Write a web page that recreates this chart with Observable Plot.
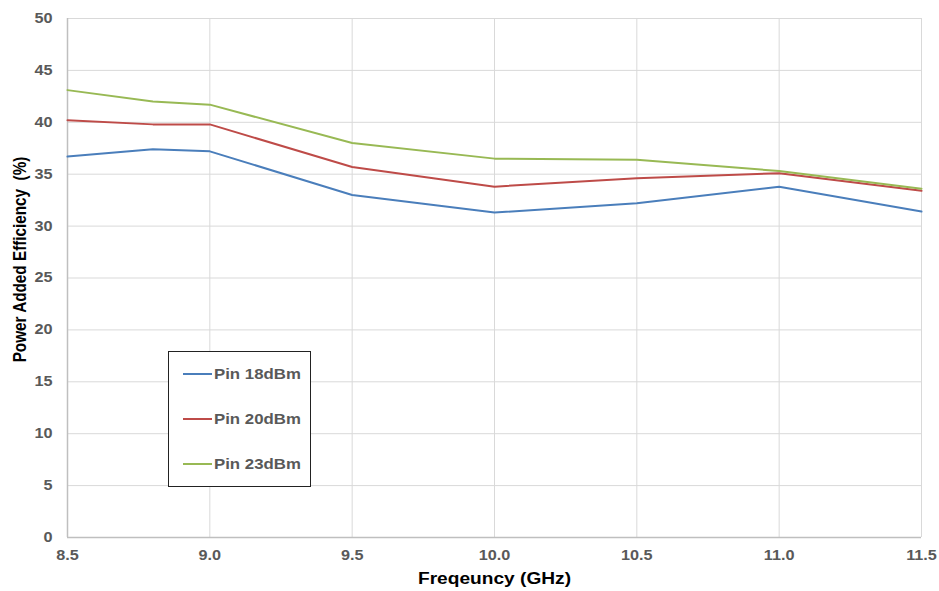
<!DOCTYPE html>
<html>
<head>
<meta charset="utf-8">
<script src="https://cdn.jsdelivr.net/npm/d3@7"></script>
<script src="https://cdn.jsdelivr.net/npm/@observablehq/plot@0.6"></script>
<style>
  html, body { margin: 0; padding: 0; background: #fff; }
  #wrap { position: relative; width: 939px; height: 591px; font-family: "Liberation Sans", Arial, sans-serif; }
  #legend { position: absolute; left: 168px; top: 351px; width: 143px; height: 136px; border: 1px solid #222; background: #fff; box-sizing: border-box; }
  .item { position: absolute; left: 14px; display: flex; align-items: center; font-weight: bold; font-size: 15px; color: #595959; }
  .swatch { width: 29px; height: 2px; margin-right: 2px; }
  .item span { display: inline-block; transform: scaleX(1.12); transform-origin: left center; }
</style>
</head>
<body>
<div id="wrap"></div>
<script>
// Frequency sweep points (GHz)
const freq = [8.5, 8.8, 9.0, 9.5, 10.0, 10.5, 11.0, 11.5];
// PAE (%) for each input power level
const pin18 = [36.7, 37.4, 37.2, 33.0, 31.3, 32.2, 33.8, 31.4];
const pin20 = [40.2, 39.8, 39.8, 35.7, 33.8, 34.6, 35.1, 33.4];
const pin23 = [43.1, 42.0, 41.7, 38.0, 36.5, 36.4, 35.3, 33.6];
const seriesNames = ["Pin 18dBm", "Pin 20dBm", "Pin 23dBm"];
const seriesColors = ["#4a7ebb", "#be4b48", "#98b954"];
const xTicks = [8.5, 9.0, 9.5, 10.0, 10.5, 11.0, 11.5];
const yTicks = [0, 5, 10, 15, 20, 25, 30, 35, 40, 45, 50];

const rows = [];
[pin18, pin20, pin23].forEach((vals, s) => {
  vals.forEach((v, i) => rows.push({freq: freq[i], pae: v, series: seriesNames[s]}));
});

const chart = Plot.plot({
  width: 939,
  height: 591,
  marginLeft: 67,
  marginRight: 18,
  marginTop: 18,
  marginBottom: 54,
  style: {fontFamily: "'Liberation Sans', Arial, sans-serif", background: "#fff"},
  x: {domain: [8.5, 11.5], ticks: xTicks},
  y: {domain: [0, 50], ticks: yTicks},
  color: {domain: seriesNames, range: seriesColors},
  marks: [
    Plot.ruleY(yTicks, {stroke: "#d9d9d9", strokeWidth: 1}),
    Plot.ruleX(xTicks, {stroke: "#d9d9d9", strokeWidth: 1}),
    Plot.ruleX([8.5], {stroke: "#bfbfbf", strokeWidth: 1.5}),
    Plot.ruleY([0], {stroke: "#bfbfbf", strokeWidth: 1.5}),
    Plot.line(rows, {x: "freq", y: "pae", z: "series", stroke: "series", strokeWidth: 2}),
    Plot.axisY(yTicks, {tickSize: 0, tickPadding: 15, fontSize: 14, fontWeight: "bold", fill: "#595959", label: null, className: "wide"}),
    Plot.axisX(xTicks, {tickSize: 0, tickPadding: 13, fontSize: 14, fontWeight: "bold", fill: "#595959", tickFormat: d => d.toFixed(1), label: null, className: "wide"}),
    Plot.text(["Freqeuncy (GHz)"], {frameAnchor: "bottom", lineAnchor: "middle", dy: 41, fontSize: 16.5, fontWeight: "bold", fill: "#000", className: "wide"}),
    Plot.text(["Power Added Efficiency  (%)"], {frameAnchor: "left", textAnchor: "middle", lineAnchor: "middle", dx: -47, dy: -18.5, rotate: -90, fontSize: 15.3, fontWeight: "bold", fill: "#000", className: "wide-rot"})
  ]
});

// Text in this chart is set slightly wide: stretch glyphs horizontally about their anchors
chart.querySelectorAll(".wide text, text.wide").forEach(t => {
  const tr = t.getAttribute("transform") || "";
  t.setAttribute("transform", tr + " scale(1.16,1)");
});
chart.querySelectorAll(".wide-rot text, text.wide-rot").forEach(t => {
  const tr = t.getAttribute("transform") || "";
  t.setAttribute("transform", tr + " scale(1,1.16)");
});

const wrap = document.getElementById("wrap");
wrap.appendChild(chart);

// Legend box drawn over the plot area
const legend = document.createElement("div");
legend.id = "legend";
seriesNames.forEach((name, i) => {
  const item = document.createElement("div");
  item.className = "item";
  item.style.top = (13 + i * 45) + "px";
  const sw = document.createElement("div");
  sw.className = "swatch";
  sw.style.background = seriesColors[i];
  const label = document.createElement("span");
  label.textContent = name;
  item.appendChild(sw);
  item.appendChild(label);
  legend.appendChild(item);
});
wrap.appendChild(legend);
</script>
</body>
</html>
